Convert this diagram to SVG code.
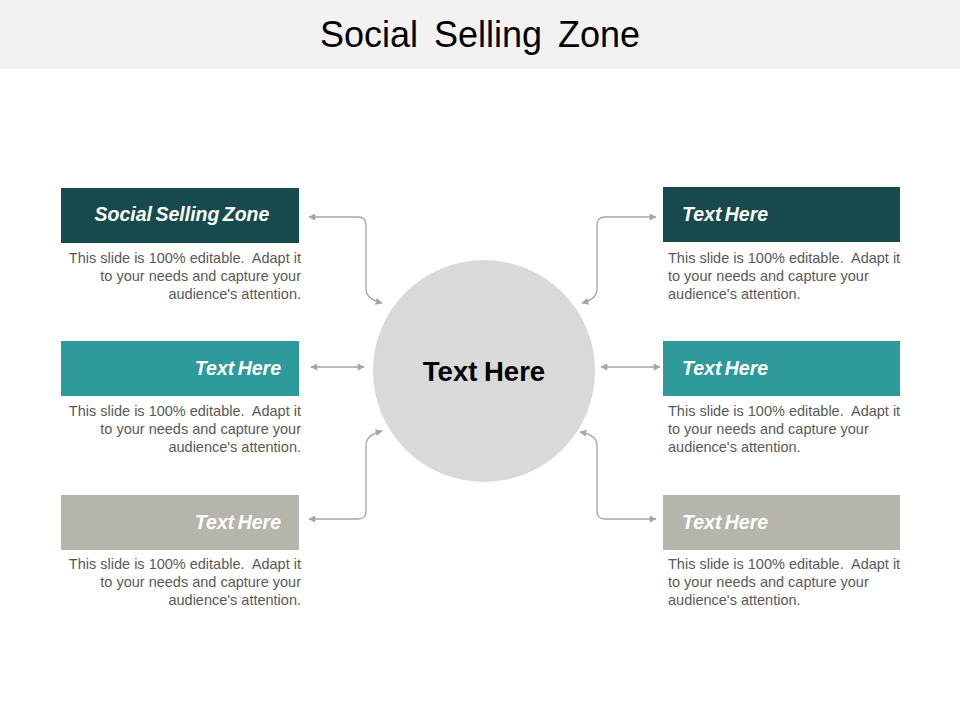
<svg xmlns="http://www.w3.org/2000/svg" width="960" height="720" viewBox="0 0 960 720">
<defs>
<marker id="ah" viewBox="0 0 10 10" refX="9" refY="5" markerWidth="9" markerHeight="7" markerUnits="userSpaceOnUse" orient="auto-start-reverse">
<path d="M0,0 L10,5 L0,10 z" fill="#a6a6a6"/>
</marker>
<style>
.lbl{font-family:"Liberation Sans",Arial,sans-serif;font-size:19.5px;font-weight:bold;font-style:italic;fill:#ffffff;word-spacing:-2px}
.desc{font-family:"Liberation Sans",Arial,sans-serif;font-size:14.5px;fill:#595959;white-space:pre}
.conn{fill:none;stroke:#a6a6a6;stroke-width:1.3;marker-start:url(#ah);marker-end:url(#ah)}
</style>
</defs>
<rect x="0" y="0" width="960" height="720" fill="#ffffff"/>
<g id="title">
<rect x="0" y="0" width="960" height="69" fill="#f2f2f2"/>
<text x="480" y="47" text-anchor="middle" font-family="Liberation Sans,Arial,sans-serif" font-size="36" fill="#000000" word-spacing="6">Social Selling Zone</text>
</g>
<g id="center">
<circle cx="484" cy="371" r="111" fill="#d9d9d9"/>
<text x="484" y="381" text-anchor="middle" font-family="Liberation Sans,Arial,sans-serif" font-size="27.5" font-weight="bold" fill="#000000" word-spacing="-1">Text Here</text>
</g>
<g id="connectors">
<path class="conn" d="M309,217 H358 Q366,217 366,225 V289 Q366,299 382,303"/>
<path class="conn" d="M311,367 H364"/>
<path class="conn" d="M309,519 H358 Q366,519 366,511 V445 Q366,435 382,431"/>
<path class="conn" d="M656,217 H605 Q597,217 597,225 V289 Q597,299 582,303"/>
<path class="conn" d="M601,367 H660"/>
<path class="conn" d="M656,519 H605 Q597,519 597,511 V445 Q597,435 580,432"/>
</g>
<g id="node-left-1">
<rect x="61" y="188" width="238" height="55" fill="#174a4c"/>
<text class="lbl" x="182" y="221" text-anchor="middle">Social Selling Zone</text>
<text class="desc" xml:space="preserve" text-anchor="end"><tspan x="301" y="263">This slide is 100% editable.  Adapt it</tspan><tspan x="301" y="281">to your needs and capture your</tspan><tspan x="301" y="299">audience's attention.</tspan></text>
</g>
<g id="node-left-2">
<rect x="61" y="341" width="238" height="55" fill="#2e9a9b"/>
<text class="lbl" x="281" y="375" text-anchor="end">Text Here</text>
<text class="desc" xml:space="preserve" text-anchor="end"><tspan x="301" y="416">This slide is 100% editable.  Adapt it</tspan><tspan x="301" y="434">to your needs and capture your</tspan><tspan x="301" y="452">audience's attention.</tspan></text>
</g>
<g id="node-left-3">
<rect x="61" y="495" width="238" height="55" fill="#b5b5ab"/>
<text class="lbl" x="281" y="529" text-anchor="end">Text Here</text>
<text class="desc" xml:space="preserve" text-anchor="end"><tspan x="301" y="569">This slide is 100% editable.  Adapt it</tspan><tspan x="301" y="587">to your needs and capture your</tspan><tspan x="301" y="605">audience's attention.</tspan></text>
</g>
<g id="node-right-1">
<rect x="663" y="187" width="237" height="55" fill="#174a4c"/>
<text class="lbl" x="682" y="221">Text Here</text>
<text class="desc" xml:space="preserve"><tspan x="668" y="263">This slide is 100% editable.  Adapt it</tspan><tspan x="668" y="281">to your needs and capture your</tspan><tspan x="668" y="299">audience's attention.</tspan></text>
</g>
<g id="node-right-2">
<rect x="663" y="341" width="237" height="55" fill="#2e9a9b"/>
<text class="lbl" x="682" y="375">Text Here</text>
<text class="desc" xml:space="preserve"><tspan x="668" y="416">This slide is 100% editable.  Adapt it</tspan><tspan x="668" y="434">to your needs and capture your</tspan><tspan x="668" y="452">audience's attention.</tspan></text>
</g>
<g id="node-right-3">
<rect x="663" y="495" width="237" height="55" fill="#b5b5ab"/>
<text class="lbl" x="682" y="529">Text Here</text>
<text class="desc" xml:space="preserve"><tspan x="668" y="569">This slide is 100% editable.  Adapt it</tspan><tspan x="668" y="587">to your needs and capture your</tspan><tspan x="668" y="605">audience's attention.</tspan></text>
</g>
</svg>
